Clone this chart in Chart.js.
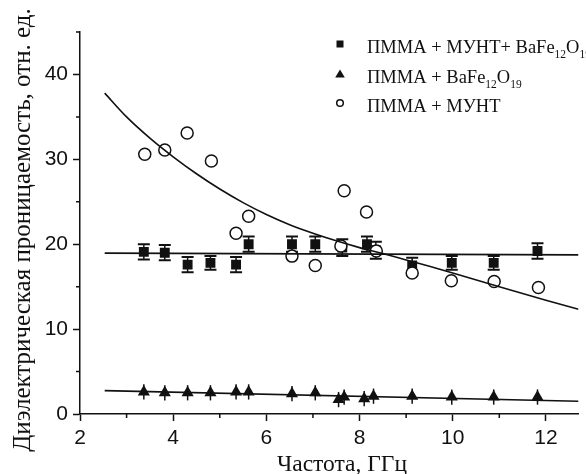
<!DOCTYPE html>
<html>
<head>
<meta charset="utf-8">
<title>Диэлектрическая проницаемость</title>
<script src="https://cdn.jsdelivr.net/npm/chart.js@4.4.0/dist/chart.umd.min.js"></script>
<style>
  body {margin: 0; background: #fff;}
  #chart {display: block;}
</style>
</head>
<body>
<canvas id="chart" width="586" height="474"></canvas>
<script>

// series names (digits after a formula letter are drawn as subscripts)
var names = ['ПММА + МУНТ+ BaFe12O19', 'ПММА + BaFe12O19', 'ПММА + МУНТ'];
var xTitle = 'Частота, ГГц';
var yTitle = 'Диэлектрическая проницаемость, отн. ед.';

// ПММА + МУНТ + BaFe12O19 (squares)
var freqSq = [3.37, 3.82, 4.31, 4.80, 5.35, 5.62, 6.55, 7.05, 7.63, 8.16, 8.35, 9.13, 9.98, 10.88, 11.82];
var epsSq  = [19.1, 19.0, 17.6, 17.8, 17.6, 20.0, 20.0, 20.0, 19.6, 20.0, 19.3, 17.5, 17.8, 17.8, 19.2];
var errSq  = [0.9, 0.9, 0.9, 0.8, 0.9, 0.9, 0.9, 0.9, 1.0, 0.9, 1.0, 0.9, 0.8, 0.8, 0.9];

// ПММА + BaFe12O19 (triangles)
var freqTri = [3.37, 3.82, 4.31, 4.80, 5.35, 5.62, 6.55, 7.05, 7.55, 7.67, 8.10, 8.30, 9.13, 9.98, 10.88, 11.82];
var epsTri  = [2.6, 2.5, 2.5, 2.5, 2.6, 2.6, 2.4, 2.5, 1.7, 2.0, 1.8, 2.1, 2.1, 2.0, 2.0, 2.0];
var errTri  = [0.9, 0.9, 0.9, 0.9, 0.9, 0.9, 0.9, 0.9, 0.9, 0.9, 0.9, 0.9, 0.9, 0.9, 0.9, 0.9];

// ПММА + МУНТ (open circles)
var freqCir = [3.39, 3.82, 4.30, 4.82, 5.35, 5.62, 6.55, 7.05, 7.60, 7.67, 8.15, 8.36, 9.13, 9.97, 10.89, 11.84];
var epsCir  = [30.6, 31.1, 33.1, 29.8, 21.3, 23.3, 18.6, 17.5, 19.8, 26.3, 23.8, 19.2, 16.6, 15.7, 15.6, 14.9];

// fit lines
var fitCirX = [2.53, 3.0, 3.5, 4.0, 4.5, 5.0, 5.5, 6.0, 6.5, 7.0, 7.5, 8.0, 8.5, 9.0, 9.5, 10.0, 11.0, 12.0, 12.7];
var fitCirY = [37.8, 35.0, 32.5, 30.3, 28.3, 26.5, 24.9, 23.5, 22.3, 21.3, 20.4, 19.6, 18.9, 18.15, 17.4, 16.6, 15.0, 13.4, 12.35];
var fitSqX  = [2.53, 12.7];
var fitSqY  = [18.95, 18.75];
var fitTriX = [2.53, 12.7];
var fitTriY = [2.75, 1.5];

// axis ticks
var xMajor = [2, 4, 6, 8, 10, 12];
var xMinor = [3, 5, 7, 9, 11];
var yMajor = [0, 10, 20, 30, 40];
var yMinor = [5, 15, 25, 35, 45];

var ink = '#111';
var serif = '"Liberation Serif", "Times New Roman", serif';

function pts(xs, ys) {
  return xs.map(function(x, i) { return {x: x, y: ys[i]}; });
}

// vertical error bars under the markers
var errorBars = {
  id: 'errorBars',
  beforeDatasetsDraw: function(chart) {
    var ctx = chart.ctx, xs = chart.scales.x, ys = chart.scales.y;
    chart.data.datasets.forEach(function(ds) {
      if (!ds.errors) return;
      ctx.save();
      ctx.strokeStyle = ink;
      ds.data.forEach(function(p, i) {
        var px = xs.getPixelForValue(p.x);
        var top = ys.getPixelForValue(p.y + ds.errors[i]);
        var bot = ys.getPixelForValue(p.y - ds.errors[i]);
        ctx.lineWidth = 1.5;
        ctx.beginPath();
        ctx.moveTo(px, top);
        ctx.lineTo(px, bot);
        ctx.stroke();
        if (ds.capWidth) {
          ctx.lineWidth = 2;
          ctx.beginPath();
          ctx.moveTo(px - ds.capWidth / 2, top);
          ctx.lineTo(px + ds.capWidth / 2, top);
          ctx.moveTo(px - ds.capWidth / 2, bot);
          ctx.lineTo(px + ds.capWidth / 2, bot);
          ctx.stroke();
        }
      });
      ctx.restore();
    });
  }
};

// text with subscripted digits
function drawFormula(ctx, text, x, y) {
  text.split(/(\d+)/).forEach(function(part) {
    if (!part) return;
    if (/^\d+$/.test(part)) {
      ctx.font = '11.5px ' + serif;
      ctx.fillText(part, x, y + 5);
    } else {
      ctx.font = '18.5px ' + serif;
      ctx.fillText(part, x, y);
    }
    x += ctx.measureText(part).width;
  });
}

// minor ticks, legend, axis titles
var extras = {
  id: 'extras',
  afterDraw: function(chart) {
    var ctx = chart.ctx, xs = chart.scales.x, ys = chart.scales.y;
    var area = chart.chartArea;
    ctx.save();
    ctx.strokeStyle = ink;
    ctx.lineWidth = 1.5;
    ctx.beginPath();
    xMinor.forEach(function(v) {
      var px = xs.getPixelForValue(v);
      ctx.moveTo(px, area.bottom);
      ctx.lineTo(px, area.bottom + 4);
    });
    yMinor.forEach(function(v) {
      var py = ys.getPixelForValue(v);
      ctx.moveTo(area.left, py);
      ctx.lineTo(area.left - 4, py);
    });
    ctx.stroke();

    // legend
    ctx.fillStyle = ink;
    ctx.textBaseline = 'alphabetic';
    ctx.textAlign = 'left';
    var mx = 340, tx = 367, rows = [53, 83, 112];
    rows.forEach(function(base, i) {
      var cy = base - 9;
      ctx.beginPath();
      if (i === 0) {
        ctx.rect(mx - 3.5, cy - 3.5, 7, 7);
        ctx.fill();
      } else if (i === 1) {
        ctx.moveTo(mx, cy - 4.5);
        ctx.lineTo(mx + 4.8, cy + 3.5);
        ctx.lineTo(mx - 4.8, cy + 3.5);
        ctx.closePath();
        ctx.fill();
      } else {
        ctx.arc(mx, cy, 3.3, 0, Math.PI * 2);
        ctx.stroke();
      }
      drawFormula(ctx, names[i], tx, base);
    });

    // x axis title
    ctx.font = '23.5px ' + serif;
    ctx.textAlign = 'center';
    ctx.fillText(xTitle, 342, 471);

    // y axis title
    ctx.translate(30, 230);
    ctx.rotate(-Math.PI / 2);
    ctx.font = '25px ' + serif;
    ctx.fillText(yTitle, 0, 0);
    ctx.restore();
  }
};

new Chart(document.getElementById('chart'), {
  type: 'scatter',
  data: {
    datasets: [
      {
        label: 'fit ' + names[2],
        type: 'line',
        data: pts(fitCirX, fitCirY),
        borderColor: ink,
        borderWidth: 1.6,
        pointRadius: 0,
        cubicInterpolationMode: 'monotone',
        fill: false,
        order: -1
      },
      {
        label: 'fit ' + names[0],
        type: 'line',
        data: pts(fitSqX, fitSqY),
        borderColor: ink,
        borderWidth: 1.6,
        pointRadius: 0,
        fill: false,
        order: -1
      },
      {
        label: 'fit ' + names[1],
        type: 'line',
        data: pts(fitTriX, fitTriY),
        borderColor: ink,
        borderWidth: 1.6,
        pointRadius: 0,
        fill: false,
        order: -1
      },
      {
        label: names[2],
        data: pts(freqCir, epsCir),
        pointStyle: 'circle',
        pointRadius: 6,
        backgroundColor: '#fff',
        borderColor: ink,
        borderWidth: 1.5,
        order: 0
      },
      {
        label: names[0],
        data: pts(freqSq, epsSq),
        errors: errSq,
        capWidth: 12,
        pointStyle: 'rect',
        pointRadius: 7,
        backgroundColor: ink,
        borderColor: ink,
        borderWidth: 0,
        order: 1
      },
      {
        label: names[1],
        data: pts(freqTri, epsTri),
        errors: errTri,
        capWidth: 0,
        pointStyle: 'triangle',
        pointRadius: 7,
        backgroundColor: ink,
        borderColor: ink,
        borderWidth: 0,
        order: 1
      }
    ]
  },
  options: {
    responsive: false,
    animation: false,
    layout: {padding: {left: 0, right: 6, top: 32, bottom: 0}},
    plugins: {
      legend: {display: false},
      tooltip: {enabled: false}
    },
    scales: {
      x: {
        type: 'linear',
        min: 2,
        max: 12.7,
        afterBuildTicks: function(scale) {
          scale.ticks = xMajor.map(function(v) { return {value: v}; });
        },
        afterFit: function(scale) { scale.height = 60; },
        border: {display: true, color: ink, width: 1.5},
        grid: {drawOnChartArea: false, drawTicks: true, tickLength: 7, tickColor: ink, tickWidth: 1.5},
        ticks: {
          color: ink,
          padding: 5,
          maxRotation: 0,
          font: {family: '"Liberation Sans", Arial, sans-serif', size: 21}
        }
      },
      y: {
        type: 'linear',
        min: 0,
        max: 45,
        afterBuildTicks: function(scale) {
          scale.ticks = yMajor.map(function(v) { return {value: v}; });
        },
        afterFit: function(scale) { scale.width = 80; },
        border: {display: true, color: ink, width: 1.5},
        grid: {drawOnChartArea: false, drawTicks: true, tickLength: 7, tickColor: ink, tickWidth: 1.5},
        ticks: {
          color: ink,
          padding: 5,
          font: {family: '"Liberation Sans", Arial, sans-serif', size: 21}
        }
      }
    }
  },
  plugins: [errorBars, extras]
});

</script>
</body>
</html>
